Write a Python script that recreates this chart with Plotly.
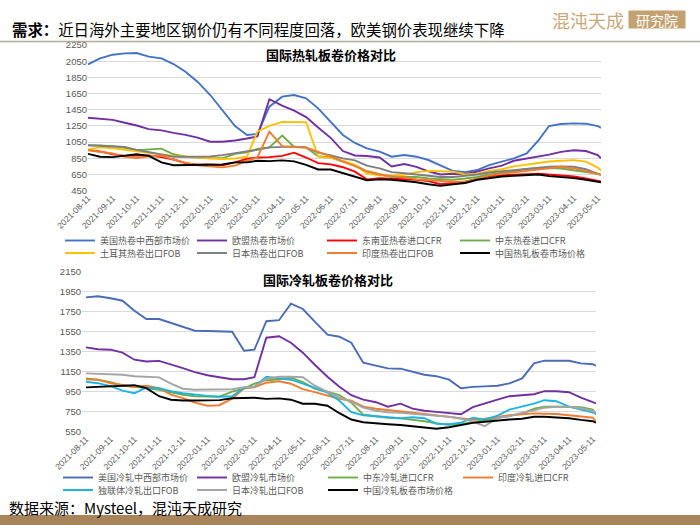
import plotly.graph_objects as go

# ---------------- data ----------------
DATES = [
    "2021-08-11", "2021-08-26", "2021-09-11", "2021-09-26", "2021-10-11", "2021-10-26",
    "2021-11-11", "2021-11-26", "2021-12-11", "2021-12-26", "2022-01-11", "2022-01-26",
    "2022-02-11", "2022-02-26", "2022-03-11", "2022-03-26", "2022-04-11", "2022-04-26",
    "2022-05-11", "2022-05-26", "2022-06-11", "2022-06-26", "2022-07-11", "2022-07-26",
    "2022-08-11", "2022-08-26", "2022-09-11", "2022-09-26", "2022-10-11", "2022-10-26",
    "2022-11-11", "2022-11-26", "2022-12-11", "2022-12-26", "2023-01-11", "2023-01-26",
    "2023-02-11", "2023-02-26", "2023-03-11", "2023-03-26", "2023-04-11", "2023-04-26",
    "2023-05-11", "2023-05-15",
]

TICK_LABELS = [
    "2021-08-11", "2021-09-11", "2021-10-11", "2021-11-11", "2021-12-11", "2022-01-11",
    "2022-02-11", "2022-03-11", "2022-04-11", "2022-05-11", "2022-06-11", "2022-07-11",
    "2022-08-11", "2022-09-11", "2022-10-11", "2022-11-11", "2022-12-11", "2023-01-11",
    "2023-02-11", "2023-03-11", "2023-04-11", "2023-05-11",
]

# ---- hot-rolled coil (国际热轧板卷价格对比) ----
HRC_NAMES = ["美国热卷中西部市场价", "欧盟热卷市场价", "东南亚热卷进口CFR", "中东热卷进口CFR",
             "土耳其热卷出口FOB", "日本热卷出口FOB", "印度热卷出口FOB", "中国热轧板卷市场价格"]

hrc_us = [2010, 2085, 2130, 2147, 2151, 2106, 2085, 2015, 1920, 1797, 1632, 1447, 1249, 1138,
          1150, 1488, 1612, 1632, 1591, 1467, 1303, 1138, 1040, 973, 932, 870, 891, 870, 829, 767,
          693, 680, 705, 767, 808, 850, 911, 1076, 1249, 1274, 1282, 1278, 1249, 1224]
hrc_eu = [1352, 1340, 1325, 1290, 1255, 1210, 1195, 1165, 1140, 1105, 1055, 1055, 1070, 1095,
          1120, 1580, 1500, 1440, 1360, 1230, 1100, 940, 885, 878, 860, 750, 780, 745, 690, 650,
          660, 656, 685, 726, 760, 820, 845, 870, 895, 930, 950, 940, 890, 850]
hrc_sea = [955, 935, 900, 880, 885, 885, 865, 835, 790, 770, 775, 765, 800, 845, 860, 865, 880,
           920, 860, 790, 775, 740, 685, 590, 605, 600, 590, 585, 570, 530, 545, 560, 600, 630,
           640, 650, 655, 660, 650, 640, 625, 600, 575, 565]
hrc_me = [1010, 1010, 1000, 980, 950, 960, 970, 900, 870, 860, 850, 850, 905, 925, 965, 985,
          1130, 990, 985, 875, 860, 810, 765, 690, 650, 620, 620, 620, 600, 590, 585, 600, 620,
          650, 670, 690, 720, 725, 730, 725, 705, 685, 660, 645]
hrc_tr = [960, 985, 975, 955, 940, 915, 895, 880, 870, 860, 845, 842, 848, 870, 1180, 1250,
          1300, 1300, 1295, 870, 855, 820, 770, 660, 640, 635, 645, 680, 695, 690, 685, 650, 660,
          695, 715, 750, 775, 795, 810, 820, 828, 810, 735, 700]
hrc_jp = [1012, 1005, 995, 990, 955, 925, 895, 870, 870, 870, 872, 890, 912, 930, 955, 985,
          990, 994, 985, 920, 885, 850, 825, 760, 725, 680, 665, 650, 630, 620, 620, 635, 650,
          675, 690, 705, 715, 730, 745, 750, 745, 715, 665, 645]
hrc_in = [950, 935, 910, 870, 855, 875, 885, 835, 795, 765, 750, 738, 760, 820, 860, 1180,
          1000, 990, 980, 930, 875, 810, 755, 690, 650, 630, 615, 590, 582, 565, 560, 565, 595,
          640, 660, 680, 700, 715, 735, 745, 725, 690, 660, 645]
hrc_cn = [905, 870, 865, 880, 900, 880, 800, 765, 768, 768, 770, 773, 800, 800, 820, 815, 825,
          812, 770, 712, 712, 670, 620, 580, 590, 585, 570, 555, 530, 510, 528, 545, 585, 605,
          625, 635, 645, 650, 630, 620, 605, 585, 560, 555]

# ---- cold-rolled coil (国际冷轧板卷价格对比) ----
CRC_NAMES = ["美国冷轧中西部市场价", "欧盟冷轧市场价", "中东冷轧进口CFR", "印度冷轧进口CFR",
             "独联体冷轧出口FOB", "日本冷轧出口FOB", "中国冷轧板卷市场价格"]

crc_us = [1893, 1905, 1885, 1860, 1760, 1677, 1677, 1640, 1600, 1560, 1557, 1555, 1550, 1360,
          1370, 1655, 1665, 1830, 1777, 1650, 1520, 1500, 1440, 1240, 1210, 1183, 1180, 1150,
          1120, 1105, 1070, 985, 998, 1003, 1010, 1033, 1083, 1233, 1260, 1260, 1260, 1233,
          1225, 1210]
crc_eu = [1393, 1375, 1370, 1340, 1270, 1252, 1258, 1225, 1185, 1145, 1115, 1095, 1075, 1075,
          1095, 1490, 1505, 1440, 1340, 1220, 1100, 1000, 915, 870, 845, 800, 830, 780, 760, 748,
          740, 725, 795, 835, 870, 905, 917, 925, 955, 955, 945, 890, 845, 833]
crc_me = [1083, 1070, 1045, 1010, 1000, 983, 970, 945, 920, 905, 900, 900, 950, 980, 1030, 1065,
          1075, 1090, 1045, 980, 950, 915, 840, 720, 705, 690, 683, 670, 655, 635, 620, 625, 645,
          665, 690, 705, 730, 780, 800, 800, 800, 795, 770, 720]
crc_in = [1073, 1070, 1035, 1018, 1000, 1010, 985, 920, 885, 840, 810, 815, 880, 985, 995, 1040,
          1055, 1030, 975, 945, 915, 880, 860, 800, 780, 765, 750, 740, 728, 715, 700, 685, 670,
          680, 700, 715, 725, 733, 730, 727, 715, 705, 690, 655]
crc_cis = [1050, 1035, 1005, 960, 935, 990, 985, 955, 935, 920, 908, 900, 905, 990, 1000, 1100,
           1085, 1070, 1030, 985, 940, 860, 745, 715, 705, 695, 685, 695, 685, 630, 625, 640,
           690, 670, 710, 770, 800, 830, 865, 855, 800, 770, 745, 733]
crc_jp = [1133, 1130, 1127, 1120, 1105, 1100, 1093, 1030, 980, 970, 972, 972, 975, 995, 1000,
          1080, 1100, 1100, 1095, 1010, 950, 890, 850, 790, 760, 745, 738, 730, 720, 710, 700,
          680, 650, 605, 690, 705, 740, 765, 790, 800, 800, 785, 760, 735]
crc_cn = [993, 1000, 1003, 1010, 1015, 985, 905, 870, 862, 862, 865, 866, 885, 885, 890, 878,
          883, 870, 830, 830, 810, 735, 672, 645, 632, 625, 617, 605, 595, 580, 595, 620, 638,
          650, 665, 672, 680, 700, 700, 695, 685, 668, 655, 640]

HRC_SERIES = [hrc_us, hrc_eu, hrc_sea, hrc_me, hrc_tr, hrc_jp, hrc_in, hrc_cn]
CRC_SERIES = [crc_us, crc_eu, crc_me, crc_in, crc_cis, crc_jp, crc_cn]

# ---------------- styling ----------------
HRC_COLORS = ["#4472C4", "#7030A0", "#FF0000", "#70AD47", "#FFC000", "#7F7F7F", "#ED7D31", "#000000"]
HRC_LEGEND = ["legend", "legend", "legend", "legend", "legend2", "legend2", "legend2", "legend2"]
HRC_LW = [87, 85, 88, 90, 87, 85, 88, 90]
CRC_COLORS = ["#4A6BB5", "#7030A0", "#70AD47", "#ED7D31", "#1FB4E0", "#A5A5A5", "#000000"]
CRC_LEGEND = ["legend3", "legend3", "legend3", "legend3", "legend4", "legend4", "legend4"]
CRC_LW = [89, 86, 90, 90, 89, 86, 90]

W, H = 700, 525
def fx(p):
    return p / W
def fy(p):
    return 1 - p / H

CJK = "Noto Sans CJK SC, Liberation Sans, sans-serif"
NUM = "Liberation Sans, Arial, sans-serif"
GRAY = "#595959"

fig = go.Figure()
for name, vals, col, lg, lw in zip(HRC_NAMES, HRC_SERIES, HRC_COLORS, HRC_LEGEND, HRC_LW):
    fig.add_trace(go.Scatter(x=DATES, y=vals, name=name, mode="lines",
                             line=dict(color=col, width=1.9), xaxis="x", yaxis="y",
                             legend=lg, legendwidth=lw))
for name, vals, col, lg, lw in zip(CRC_NAMES, CRC_SERIES, CRC_COLORS, CRC_LEGEND, CRC_LW):
    fig.add_trace(go.Scatter(x=DATES, y=vals, name=name, mode="lines",
                             line=dict(color=col, width=1.9), xaxis="x2", yaxis="y2",
                             legend=lg, legendwidth=lw))

xcommon = dict(type="date", tickmode="array", tickvals=TICK_LABELS, ticktext=TICK_LABELS,
               tickangle=-45, showgrid=False, showline=False, zeroline=False, ticks="",
               tickfont=dict(family=NUM, size=8.5, color=GRAY))
ycommon = dict(dtick=200, showgrid=True, gridcolor="#D9D9D9", gridwidth=1, showline=False,
               zeroline=False, ticks="", tickfont=dict(family=NUM, size=9.5, color=GRAY))

legcommon = dict(orientation="h", xanchor="left", yanchor="middle", bgcolor="rgba(0,0,0,0)",
                 font=dict(family=CJK, size=9, color=GRAY), itemwidth=30,
                 entrywidthmode="pixels")

fig.update_layout(
    width=W, height=H, margin=dict(l=0, r=0, t=0, b=0, autoexpand=False),
    paper_bgcolor="white", plot_bgcolor="white", showlegend=True,
    xaxis=dict(domain=[fx(88), fx(601)], anchor="y", range=["2021-08-11", "2023-05-15"], **xcommon),
    yaxis=dict(domain=[fy(190.7), fy(45)], anchor="x", range=[450, 2250], tick0=450, **ycommon),
    xaxis2=dict(domain=[fx(82), fx(596)], anchor="y2", range=["2021-08-06", "2023-05-15"], **xcommon),
    yaxis2=dict(domain=[fy(431.7), fy(271.7)], anchor="x2", range=[550, 2150], tick0=550, **ycommon),
    legend=dict(x=fx(60), y=fy(240.5), **legcommon),
    legend2=dict(x=fx(60), y=fy(253), **legcommon),
    legend3=dict(x=fx(58), y=fy(477.5), **legcommon),
    legend4=dict(x=fx(58), y=fy(490), **legcommon),
)

ann = [
    dict(text="<b>需求：</b>近日海外主要地区钢价仍有不同程度回落，欧美钢价表现继续下降",
         x=fx(10), y=fy(29), xanchor="left", yanchor="middle",
         font=dict(family=CJK, size=15.4, color="#000000")),
    dict(text="混沌天成", x=fx(588), y=fy(20), xanchor="center", yanchor="middle",
         font=dict(family=CJK, size=18, color="#C9A878")),
    dict(text="研究院", x=fx(657), y=fy(20), xanchor="center", yanchor="middle",
         width=56, height=17, bgcolor="#C4A170", borderpad=0,
         font=dict(family=CJK, size=14, color="#FFFFFF")),
    dict(text="<b>国际热轧板卷价格对比</b>", x=fx(331), y=fy(55), xanchor="center", yanchor="middle",
         font=dict(family=CJK, size=13, color="#000000")),
    dict(text="<b>国际冷轧板卷价格对比</b>", x=fx(328), y=fy(279), xanchor="center", yanchor="middle",
         font=dict(family=CJK, size=13, color="#000000")),
    dict(text="数据来源：Mysteel，混沌天成研究", x=fx(7), y=fy(507), xanchor="left", yanchor="middle",
         font=dict(family=CJK, size=15, color="#000000")),
]
for a in ann:
    a.update(xref="paper", yref="paper", showarrow=False)
fig.update_layout(annotations=ann)

fig.update_layout(shapes=[
    dict(type="line", xref="paper", yref="paper", x0=0, x1=1, y0=fy(41.5), y1=fy(41.5),
         line=dict(color="#B3AA9A", width=1.5)),
    dict(type="rect", xref="paper", yref="paper", x0=0, x1=1, y0=0, y1=fy(515),
         fillcolor="#A8845A", line=dict(width=0)),
])

fig.write_html("out.html")
